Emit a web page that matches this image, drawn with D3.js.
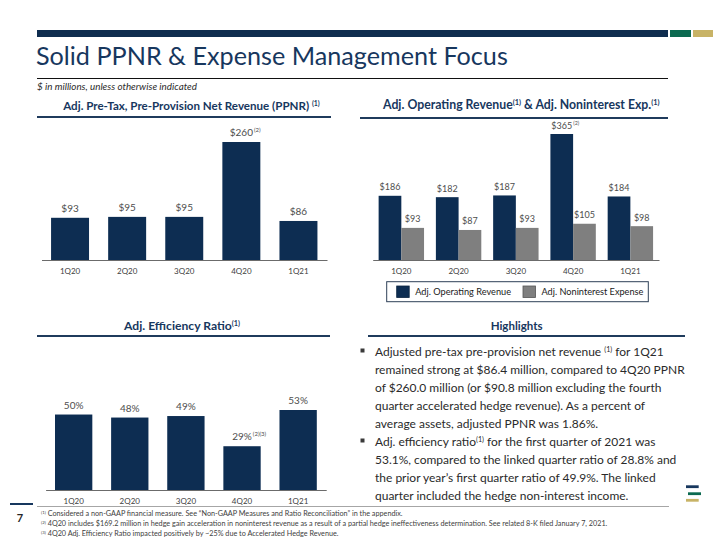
<!DOCTYPE html>
<html><head><meta charset="utf-8">
<script src="https://cdn.jsdelivr.net/npm/d3@7"></script>
<style>body{margin:0;background:#fff}svg{display:block}</style>
</head><body><svg id="c" width="720" height="540"></svg>
<script>
// ---------- data ----------
const categories = ["1Q20", "2Q20", "3Q20", "4Q20", "1Q21"];
const ppnr = [93, 95, 95, 260, 86];
const ppnrNotes = ["", "", "", "(2)", ""];
const opRevenue = [186, 182, 187, 365, 184];
const opRevenueNotes = ["", "", "", "(2)", ""];
const nonintExpense = [93, 87, 93, 105, 98];
const efficiency = [50, 48, 49, 29, 53];
const efficiencyNotes = ["", "", "", "(2)(3)", ""];
const seriesNames = ["Adj. Operating Revenue", "Adj. Noninterest Expense"];

// ---------- style ----------
const NAVY = "#0d2d52", HEAD = "#17375e", GRAY = "#7f7f7f", TXT = "#404040", DARK = "#2b2b2b";
const FONT = "Lato, 'Open Sans', sans-serif";
const svg = d3.select("#c").attr("font-family", FONT);

function rich(x, y, parts, size, opts = {}) {
  const t = svg.append("text").attr("x", x).attr("y", y)
    .attr("font-size", size).attr("fill", opts.fill || DARK)
    .attr("font-weight", opts.weight || "normal")
    .attr("font-style", opts.style || "normal")
    .attr("text-anchor", opts.anchor || "start");
  parts.forEach(p => {
    const s = t.append("tspan").text(p[0]);
    if (p[1]) s.attr("font-size", "0.6em").attr("baseline-shift", "super");
  });
  if (opts.width) fit(t, opts.width);
  return t;
}
function fit(t, w) {
  const cur = t.node().getComputedTextLength();
  const fs = parseFloat(t.attr("font-size"));
  t.attr("font-size", fs * w / cur);
  return fs * w / cur;
}

// ---------- header ----------
svg.append("rect").attr("x", 37).attr("y", 30).attr("width", 631).attr("height", 7).attr("fill", "#0f2d4f");
svg.append("rect").attr("x", 670).attr("y", 30).attr("width", 21).attr("height", 7).attr("fill", "#0b6a50");
svg.append("rect").attr("x", 693).attr("y", 30).attr("width", 20).attr("height", 7).attr("fill", "#c8b366");
rich(36, 65, [["Solid PPNR & Expense Management Focus"]], 26, {fill: HEAD, width: 472});
svg.append("line").attr("x1", 37).attr("x2", 668).attr("y1", 78.5).attr("y2", 78.5).attr("stroke", "#111").attr("stroke-width", 1);
rich(37, 89.5, [["$ in millions, unless otherwise indicated"]], 9.5, {fill: DARK, style: "italic", width: 160});

function heading(cx, y, parts, w, x1, x2, ly) {
  rich(cx, y, parts, 12.5, {fill: HEAD, weight: "bold", anchor: "middle", width: w});
  svg.append("line").attr("x1", x1).attr("x2", x2).attr("y1", ly).attr("y2", ly)
    .attr("stroke", "#1f3b5c").attr("stroke-width", 1.8);
}
heading(191.5, 110, [["Adj. Pre-Tax, Pre-Provision Net Revenue (PPNR) "], ["(1)", 1]], 257, 37, 331, 117);
heading(521.3, 109, [["Adj. Operating Revenue"], ["(1)", 1], [" & Adj. Noninterest Exp."], ["(1)", 1]], 277, 360, 668, 118);
heading(182, 330, [["Adj. Efficiency Ratio"], ["(1)", 1]], 116, 37, 330, 336);
heading(516.6, 330, [["Highlights"]], 52, 368, 685, 336);

// value label with trailing note
function valueLabel(cx, y, txt, note, size) {
  const t = svg.append("text").attr("x", cx).attr("y", y).attr("text-anchor", "middle")
    .attr("font-size", size).attr("fill", "#4d4d4d").text(txt);
  if (note) {
    const w = t.node().getComputedTextLength();
    svg.append("text").attr("x", cx + w / 2 + 1).attr("y", y - size * 0.38)
      .attr("font-size", size * 0.6).attr("fill", "#4d4d4d").text(note);
  }
}
function axis(scale, y) {
  const g = svg.append("g").attr("transform", `translate(0,${y})`)
    .call(d3.axisBottom(scale).tickSize(0).tickSizeOuter(0).tickPadding(8));
  g.select(".domain").attr("stroke", "#6b6b6b").attr("stroke-width", 1.2);
  g.selectAll("text").attr("font-family", FONT).attr("font-size", 8).attr("fill", TXT);
}

// ---------- chart 1: PPNR ----------
const x1 = d3.scaleBand().domain(categories).range([41.5, 327]).paddingInner(0.335).paddingOuter(0.1675);
const y1 = d3.scaleLinear().domain([0, 260]).range([260, 142]);
svg.append("g").selectAll("rect").data(ppnr).join("rect")
  .attr("x", (d, i) => x1(categories[i])).attr("y", d => y1(d))
  .attr("width", x1.bandwidth()).attr("height", d => y1(0) - y1(d)).attr("fill", NAVY);
ppnr.forEach((d, i) => valueLabel(x1(categories[i]) + x1.bandwidth() / 2, y1(d) - 6, "$" + d, ppnrNotes[i], 10));
axis(x1, 260);

// ---------- chart 2: revenue & expense ----------
const x2 = d3.scaleBand().domain(categories).range([372.7, 659]).paddingInner(0.207).paddingOuter(0.1035);
const xs = d3.scaleBand().domain(seriesNames).range([0, x2.bandwidth()]);
const y2 = d3.scaleLinear().domain([0, 365]).range([260, 134]);
const colors2 = [NAVY, GRAY];
[opRevenue, nonintExpense].forEach((arr, s) => {
  svg.append("g").selectAll("rect").data(arr).join("rect")
    .attr("x", (d, i) => x2(categories[i]) + xs(seriesNames[s])).attr("y", d => y2(d))
    .attr("width", xs.bandwidth()).attr("height", d => y2(0) - y2(d)).attr("fill", colors2[s]);
  arr.forEach((d, i) => valueLabel(x2(categories[i]) + xs(seriesNames[s]) + xs.bandwidth() / 2,
    y2(d) - 5.5, "$" + d, s === 0 ? opRevenueNotes[i] : "", 9));
});
axis(x2, 260);

// legend
svg.append("rect").attr("x", 386.7).attr("y", 281.7).attr("width", 261.6).attr("height", 20)
  .attr("fill", "#fff").attr("stroke", "#2e4057").attr("stroke-width", 1);
const legX = [396.7, 523], legW = [96, 102];
seriesNames.forEach((n, s) => {
  svg.append("rect").attr("x", legX[s]).attr("y", 286).attr("width", 12.5).attr("height", 11.5)
    .attr("fill", colors2[s]).attr("stroke", s ? "#555" : "#0a2440").attr("stroke-width", 0.8);
  const t = svg.append("text").attr("x", legX[s] + 18.5).attr("y", 295.3).attr("font-size", 10).attr("fill", "#1a1a1a").text(n);
  fit(t, legW[s]);
});

// ---------- chart 3: efficiency ----------
const x3 = d3.scaleBand().domain(categories).range([45.6, 326.2]).paddingInner(0.335).paddingOuter(0.1675);
const y3 = d3.scaleLinear().domain([0, 53]).range([490, 410]);
svg.append("g").selectAll("rect").data(efficiency).join("rect")
  .attr("x", (d, i) => x3(categories[i])).attr("y", d => y3(d))
  .attr("width", x3.bandwidth()).attr("height", d => y3(0) - y3(d)).attr("fill", NAVY);
efficiency.forEach((d, i) => valueLabel(x3(categories[i]) + x3.bandwidth() / 2, y3(d) - 6, d + "%", efficiencyNotes[i], 10));
axis(x3, 490);

// ---------- highlights ----------
const bullets = [
  {y: 356, lines: [
    [["Adjusted pre-tax pre-provision net revenue "], ["(1)", 1], [" for 1Q21"]],
    [["remained strong at $86.4 million, compared to 4Q20 PPNR"]],
    [["of $260.0 million (or $90.8 million excluding the fourth"]],
    [["quarter accelerated hedge revenue). As a percent of"]],
    [["average assets, adjusted PPNR was 1.86%."]]]},
  {y: 446, lines: [
    [["Adj. efficiency ratio"], ["(1)", 1], [" for the first quarter of 2021 was"]],
    [["53.1%, compared to the linked quarter ratio of 28.8% and"]],
    [["the prior year\u2019s first quarter ratio of 49.9%. The linked"]],
    [["quarter included the hedge non-interest income."]]]}
];
const probe = rich(375, -50, bullets[0].lines[1], 13);
const hs = fit(probe, 310);
probe.remove();
bullets.forEach(b => {
  svg.append("rect").attr("x", 360.5).attr("y", b.y - 7.5).attr("width", 4).attr("height", 4).attr("fill", "#3a3a3a");
  b.lines.forEach((ln, j) => rich(375, b.y + j * 18, ln, hs, {fill: "#2a2a2a"}));
});

// ---------- footer ----------
svg.append("line").attr("x1", 37).attr("x2", 669).attr("y1", 506.5).attr("y2", 506.5).attr("stroke", "#a6a6a6").attr("stroke-width", 1);
svg.append("line").attr("x1", 10).attr("x2", 33).attr("y1", 504).attr("y2", 504).attr("stroke", HEAD).attr("stroke-width", 2);
svg.append("text").attr("x", 20).attr("y", 522).attr("text-anchor", "middle").attr("font-size", 11)
  .attr("font-weight", "bold").attr("fill", "#262626").text("7");
const notes = [
  [["(1)", 1], [" Considered a non-GAAP financial measure. See \u201cNon-GAAP Measures and Ratio Reconciliation\u201d in the appendix."]],
  [["(2)", 1], [" 4Q20 includes $169.2 million in hedge gain acceleration in noninterest revenue as a result of a partial hedge ineffectiveness determination. See related 8-K filed January 7, 2021."]],
  [["(3)", 1], [" 4Q20 Adj. Efficiency Ratio impacted positively by ~25% due to Accelerated  Hedge Revenue."]]
];
const np = rich(41, -50, notes[1], 7);
const ns = fit(np, 567);
np.remove();
notes.forEach((n, i) => rich(41, 515.5 + i * 10, n, ns, {fill: TXT}));

// logo
[["#17375e", 686, 698.7, 486.7], ["#0b6a50", 688, 701, 493.7], ["#c8b366", 686, 698.7, 500.3]].forEach(l =>
  svg.append("line").attr("x1", l[1]).attr("x2", l[2]).attr("y1", l[3]).attr("y2", l[3]).attr("stroke", l[0]).attr("stroke-width", 2.8));
</script></body></html>
